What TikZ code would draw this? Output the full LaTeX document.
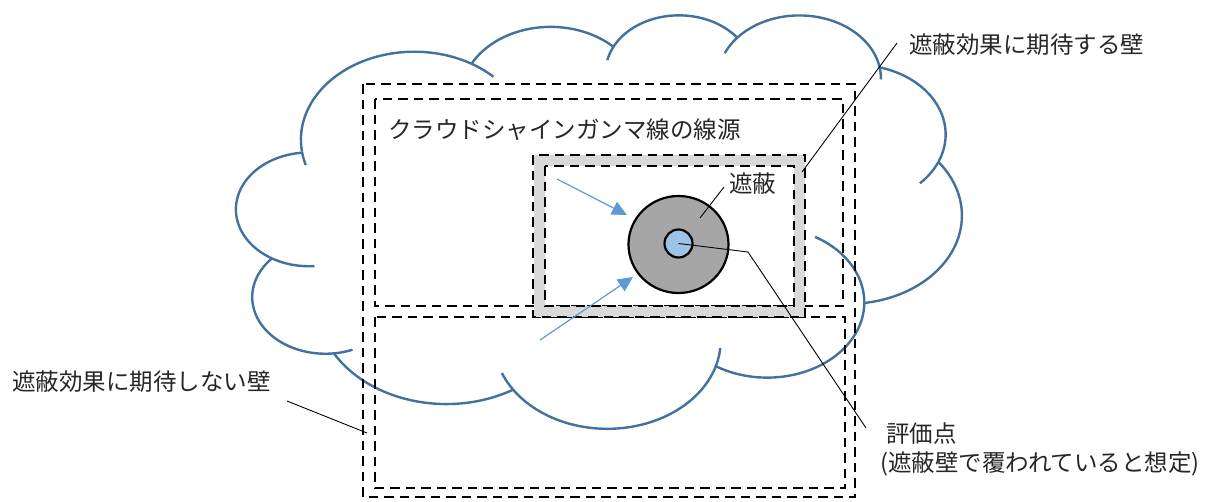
\documentclass[tikz,border=0pt]{standalone}
\usepackage{fontspec}
\setmainfont{Noto Sans CJK JP}
\usetikzlibrary{arrows.meta,shapes.geometric}
\definecolor{cloudblue}{HTML}{41719C}
\definecolor{arrowblue}{HTML}{5B9BD5}
\definecolor{pointblue}{HTML}{9DC3E6}
\definecolor{shieldgray}{HTML}{A6A6A6}
\definecolor{wallgray}{HTML}{D9D9D9}
\begin{document}
\begin{tikzpicture}[x=1pt,y=-1pt,
  cloudline/.style={draw=cloudblue, line width=2.4pt},
  walldash/.style={draw=black, line width=2.6pt, dash pattern=on 9.5pt off 6pt},
  leader/.style={draw=black, line width=0.9pt},
  ray/.style={draw=arrowblue, line width=1.2pt, -{Triangle[length=15pt,width=14pt]}},
  lbl/.style={font=\fontsize{23.5}{28}\selectfont, inner sep=0pt, anchor=west, text=black!85}
]
\useasboundingbox (0,0) rectangle (1217,501);

% ---------- cloud (preset cloud geometry) ----------
\pgfmathsetmacro\cPX{236.5+3900*0.016782}
\pgfmathsetmacro\cPY{14+14370*0.00956}
\xdef\cPX{\cPX}\xdef\cPY{\cPY}
\foreach \wr/\hr/\st/\sw/\eb/\ea in {
  6753/9190/-190.4875/123.7805/11.86/12.32,
  5333/7267/-144.1024/89.9452/0/0,
  4365/5945/-145.8079/99.7230/17.70/0,
  4857/6595/-130.9861/117.2417/18.20/14.85,
  5333/7273/-78.7089/109.0269/0/23,
  6775/9220/-46.2673/130.2690/0/0,
  5785/7867/0.6250/114.0333/68/0,
  6752/9215/22.4516/115.1726/16.0/14.08,
  7720/10543/66.2426/75.7110/0/0,
  4360/5918/-274.9421/146.7356/11.45/0,
  4345/5945/-246.8285/152.5189/26.43/0}{
  \pgfmathsetmacro\rA{\wr*0.016782}
  \pgfmathsetmacro\rB{\hr*0.00956}
  \pgfmathsetmacro\tA{atan2(\wr*sin(\st),\hr*cos(\st))}
  \pgfmathsetmacro\tBr{atan2(\wr*sin(\st+\sw),\hr*cos(\st+\sw))}
  \pgfmathsetmacro\tB{\tBr+360*floor((\tA-\tBr)/360+1)}
  \pgfmathsetmacro\cX{\cPX-\rA*cos(\tA)}
  \pgfmathsetmacro\cY{\cPY-\rB*sin(\tA)}
  \draw[cloudline] plot[domain=\tA:\tB, samples=60] ({\cX+\rA*cos(\x)},{\cY+\rB*sin(\x)});
  \ifdim\eb pt>0pt
    \pgfmathsetmacro\tEr{atan2(\wr*sin(\st-\eb),\hr*cos(\st-\eb))}
    \pgfmathsetmacro\tE{\tEr-360*floor((\tEr-\tA)/360+1)}
    \draw[cloudline] plot[domain=\tE:\tA, samples=20] ({\cX+\rA*cos(\x)},{\cY+\rB*sin(\x)});
  \fi
  \ifdim\ea pt>0pt
    \pgfmathsetmacro\tFr{atan2(\wr*sin(\st+\sw+\ea),\hr*cos(\st+\sw+\ea))}
    \pgfmathsetmacro\tF{\tFr+360*floor((\tB-\tFr)/360+1)}
    \draw[cloudline] plot[domain=\tB:\tF, samples=20] ({\cX+\rA*cos(\x)},{\cY+\rB*sin(\x)});
  \fi
  \pgfmathsetmacro\nX{\cX+\rA*cos(\tB)}
  \pgfmathsetmacro\nY{\cY+\rB*sin(\tB)}
  \xdef\cPX{\nX}\xdef\cPY{\nY}
}

% ---------- building walls (dashed) ----------
\draw[walldash] (363,84) rectangle (855,497);
\draw[walldash] (375,99) rectangle (843,306);
\draw[walldash] (375,317) rectangle (845,488);

% ---------- shielding wall ----------
\draw[wallgray, line width=11pt] (539,160.5) rectangle (799.5,311.5);
\draw[walldash] (533,155) rectangle (805,317);
\draw[walldash] (545,166) rectangle (794,306);

% ---------- shield and evaluation point ----------
\node[ellipse, draw=black, line width=2.2pt, fill=shieldgray,
      minimum width=100pt, minimum height=97pt, inner sep=0pt] (shield) at (678.5,244.5) {};
\node[circle, draw=black, line width=2.2pt, fill=pointblue,
      minimum size=28pt, inner sep=0pt] (point) at (678.5,243.5) {};

% ---------- rays ----------
\coordinate (rayAs) at (557,179);
\coordinate (rayAe) at (627,215);
\coordinate (rayBs) at (540,340);
\coordinate (rayBe) at (633,277);
\draw[ray] (rayAs) -- (rayAe);
\draw[ray] (rayBs) -- (rayBe);

% ---------- labels ----------
\node[lbl] (lblwall) at (909,45) {遮蔽効果に期待する壁};
\node[lbl] (lblsource) at (388,130) {クラウドシャインガンマ線の線源};
\node[lbl] (lblshield) at (729,184) {遮蔽};
\node[lbl] (lblnowall) at (12,382) {遮蔽効果に期待しない壁};
\node[lbl] (lblpoint) at (886,434) {評価点};
\node[lbl] (lblnote) at (880,464) {(遮蔽壁で覆われていると想定)};

% ---------- leader lines ----------
\coordinate (ldWallA) at (897,43);
\coordinate (ldWallB) at (802,172);
\coordinate (ldShA) at (724,187);
\coordinate (ldShB) at (700,218);
\coordinate (ldPtK) at (748,252);
\coordinate (ldPtE) at (866,428);
\coordinate (ldNoA) at (287,401);
\coordinate (ldNoB) at (367,433);
\draw[leader] (ldWallA) -- (ldWallB);
\draw[leader] (ldShA) -- (ldShB);
\draw[leader] (point.center) -- (ldPtK) -- (ldPtE);
\draw[leader] (ldNoA) -- (ldNoB);
\end{tikzpicture}
\end{document}
